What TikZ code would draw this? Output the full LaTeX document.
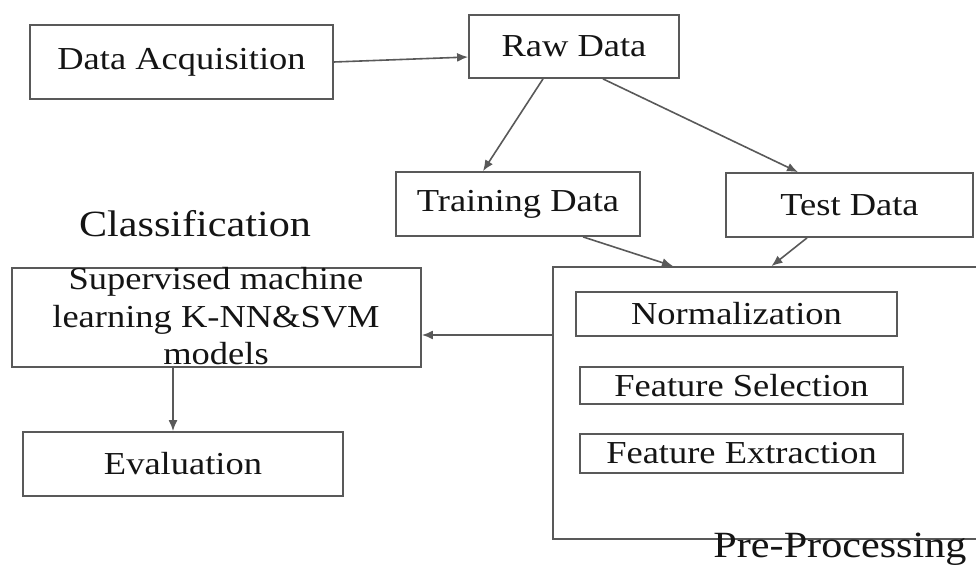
\documentclass[tikz,border=0pt]{standalone}
\usepackage{fontspec}
\setmainfont{Liberation Serif}
\usepackage{graphicx}
\usetikzlibrary{arrows.meta}
\usetikzlibrary{positioning}

% labels in the scan are a bit wider than they are tall
\newcommand{\widetext}[1]{\scalebox{1.14}[1]{#1}}

\begin{document}
\begin{tikzpicture}
		[
		x=0.5pt, y=-0.5pt,
		font=\fontsize{16}{18.75}\selectfont,
		>={Latex[length=5.5pt,width=4.5pt]}
		]
		
		% Box, arrow and heading styles
		\tikzstyle{box}=[rectangle,draw=black!65,line width=0.9pt,inner sep=0,text=black!92];
		\tikzstyle{link}=[->,draw=black!65,line width=0.8pt];
		\tikzstyle{heading}=[font=\fontsize{18.5}{22}\selectfont,text=black!92,inner sep=0,anchor=base];
		
		\useasboundingbox (0,0) rectangle (976,567);
		\clip (0,0) rectangle (976,567);
		
		% Top row
		\node(acq)[box,minimum width=151.5pt,minimum height=37pt]at(181.5,62){\widetext{Data Acquisition}};
		\node(raw)[box,minimum width=105pt,minimum height=31.5pt]at(574,46.5){\widetext{Raw Data}};
		% Split
		\node(train)[box,minimum width=122pt,minimum height=32pt]at(518,204){\widetext{Training Data}};
		\node(test)[box,minimum width=123.5pt,minimum height=32pt]at(849.5,205){\widetext{Test Data}};
		% Pre-processing block (right side runs off the page)
		\node(pre)[box,minimum width=218.5pt,minimum height=136pt]at(771.5,403){};
		\node(norm)[box,minimum width=160.5pt,minimum height=22pt]at(736.5,314){\widetext{Normalization}};
		\node(fsel)[box,minimum width=161.5pt,minimum height=18.5pt]at(741.5,385.5){\widetext{Feature Selection}};
		\node(fext)[box,minimum width=161.5pt,minimum height=19.5pt]at(741.5,453.5){\widetext{Feature Extraction}};
		% Classification side
		\node(model)[box,minimum width=204.5pt,minimum height=49.5pt]at(216.5,317.5){};
		\node(modeltext)[inner sep=0,text=black!92]at(216,320)
			{\widetext{\begin{tabular}{@{}c@{}}Supervised machine\\learning K-NN\&SVM\\models\end{tabular}}};
		\node(eval)[box,minimum width=160pt,minimum height=32pt]at(183,464){\widetext{Evaluation}};
		
		% Headings
		\node(cls)[heading]at(195,237){\widetext{Classification}};
		\node(prep)[heading]at(840,557){\widetext{Pre-Processing}};
		
		% Arrows
		\draw[link](acq.east)--([yshift=-5.25pt]raw.west);
		\draw[link]([xshift=-15.5pt]raw.south)--([xshift=-17.5pt]train.north);
		\draw[link]([xshift=14.5pt]raw.south)--([xshift=-25.75pt]test.north);
		\draw[link]([xshift=32.5pt]train.south)--([xshift=-49.25pt]pre.north);
		\draw[link]([xshift=-21.25pt]test.south)--(pre.north);
		\draw[link]([yshift=34pt]pre.west)--([yshift=34pt]pre.west -| model.east);
		\draw[link]([xshift=-21.75pt]model.south)--([xshift=-21.75pt]model.south |- eval.north);
		
		\end{tikzpicture}
\end{document}
